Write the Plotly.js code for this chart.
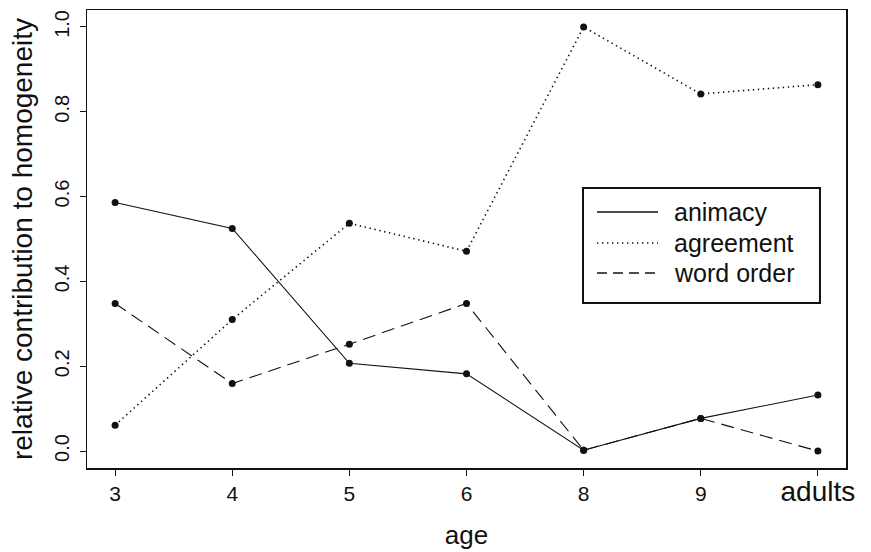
<!DOCTYPE html>
<html>
<head>
<meta charset="utf-8">
<script src="https://cdn.plot.ly/plotly-3.0.1.min.js"></script>
<style>html,body{margin:0;padding:0;background:#fff}#chart{width:871px;height:552px}</style>
</head>
<body>
<div id="chart"></div>
<script>
var ages = ["3", "4", "5", "6", "8", "9", "adults"];
var tickLabels = ["3", "4", "5", "6", "8", "9", "<span style=\"font-size:28px\">adults</span>"];
var animacy = [0.586, 0.525, 0.207, 0.182, 0.002, 0.077, 0.132];
var agreement = [0.061, 0.310, 0.537, 0.471, 1.000, 0.842, 0.864];
var wordOrder = [0.348, 0.159, 0.252, 0.348, 0.002, 0.077, 0.000];
var seriesNames = ["animacy", "agreement", "word order"];
var yTicks = [0, 0.2, 0.4, 0.6, 0.8, 1.0];
var yTickText = ["0.0", "0.2", "0.4", "0.6", "0.8", "1.0"];
var yTitle = "relative contribution to homogeneity";

var ink = "#111";
var dashes = ["solid", "1.4px,3.6px", "13px,7px"];
var series = [animacy, agreement, wordOrder];

var traces = series.map(function (vals, i) {
  return {
    x: ages, y: vals, type: "scatter", mode: "lines+markers",
    name: seriesNames[i], showlegend: false,
    line: {color: ink, width: i === 1 ? 1.6 : 1.1, dash: dashes[i]},
    marker: {color: ink, size: 7}
  };
});

// manual legend (box, sample lines, labels) in paper coordinates
var lgX0 = 0.6535, lgX1 = 0.9657, lgY0 = 0.3603, lgY1 = 0.6114;
var rowY = [0.559, 0.4913, 0.4258];
var shapes = [{type: "rect", xref: "paper", yref: "paper", x0: lgX0, x1: lgX1, y0: lgY0, y1: lgY1,
  line: {color: ink, width: 2}, fillcolor: "rgba(255,255,255,0)"}];
var annotations = [];
seriesNames.forEach(function (n, i) {
  shapes.push({type: "line", xref: "paper", yref: "paper", x0: 0.6719, x1: 0.7523, y0: rowY[i], y1: rowY[i],
    line: {color: ink, width: i === 1 ? 1.6 : 1.3, dash: i === 2 ? "10px,6px" : dashes[i]}});
  annotations.push({xref: "paper", yref: "paper", x: 0.7708, y: rowY[i], xanchor: "left", yanchor: "middle",
    text: n, showarrow: false, font: {size: 25, color: ink, family: "Liberation Sans, Arial, sans-serif"}});
});
// y-axis title placed as rotated text
annotations.push({xref: "paper", yref: "paper", x: -0.0856, y: 0.5, xanchor: "center", yanchor: "middle",
  textangle: -90, text: yTitle, showarrow: false,
  font: {size: 28, color: ink, family: "Liberation Sans, Arial, sans-serif"}});

var layout = {
  width: 871, height: 552,
  margin: {l: 87, r: 25, t: 10, b: 84},
  paper_bgcolor: "#fff", plot_bgcolor: "#fff",
  font: {family: "Liberation Sans, Arial, sans-serif", color: ink},
  showlegend: false,
  xaxis: {
    type: "category", range: [-0.24, 6.24],
    tickmode: "array", tickvals: ages, ticktext: tickLabels,
    ticks: "outside", ticklen: 6, tickcolor: ink, tickwidth: 1,
    showline: true, linecolor: ink, linewidth: 1.5, mirror: true,
    showgrid: false, zeroline: false,
    tickfont: {size: 21, color: ink},
    title: {text: "age", font: {size: 26, color: ink}, standoff: 20}
  },
  yaxis: {
    range: [-0.04, 1.04],
    tickmode: "array", tickvals: yTicks, ticktext: yTickText, tickangle: -90,
    ticks: "outside", ticklen: 6, tickcolor: ink, tickwidth: 1,
    ticklabelstandoff: 3,
    showline: true, linecolor: ink, linewidth: 1.5, mirror: true,
    showgrid: false, zeroline: false,
    tickfont: {size: 20, color: ink}
  },
  shapes: shapes,
  annotations: annotations
};

Plotly.newPlot("chart", traces, layout, {displayModeBar: false, staticPlot: true});
</script>
</body>
</html>
